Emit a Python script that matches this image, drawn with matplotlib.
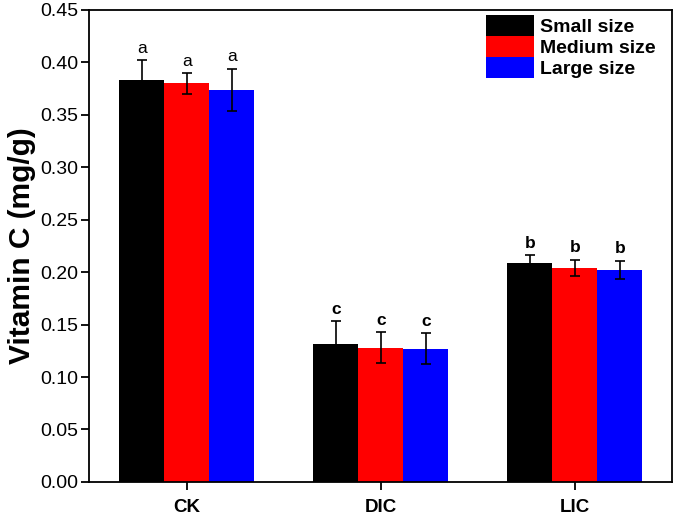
import numpy as np
import matplotlib
matplotlib.use('Agg')
import matplotlib.pyplot as plt

plt.rcParams['font.family'] = ['Liberation Sans', 'DejaVu Sans']

groups = ['CK', 'DIC', 'LIC']
sizes = ['Small size', 'Medium size', 'Large size']
colors = ['black', 'red', 'blue']

small = [0.383, 0.131, 0.209]
medium = [0.380, 0.128, 0.204]
large = [0.374, 0.127, 0.202]
small_err = [0.019, 0.022, 0.007]
medium_err = [0.010, 0.015, 0.008]
large_err = [0.020, 0.015, 0.009]
letters = [['a', 'a', 'a'], ['c', 'c', 'c'], ['b', 'b', 'b']]

fig = plt.figure(figsize=(6.77, 5.16), dpi=100)
ax = fig.add_axes([0.1315, 0.066, 0.861, 0.915])

x = np.arange(len(groups))
width = 0.232
series = [small, medium, large]
errs = [small_err, medium_err, large_err]
for i in range(3):
    pos = x + (i - 1) * width
    ax.bar(pos, series[i], width, color=colors[i], label=sizes[i],
           yerr=errs[i], capsize=3.5,
           error_kw=dict(ecolor='black', elinewidth=1.2, capthick=1.2))
    for j in range(len(groups)):
        top = series[i][j] + errs[i][j]
        ax.text(pos[j], top + 0.004, letters[j][i], ha='center', va='bottom',
                fontsize=12.5, fontweight='normal' if j == 0 else 'bold')

ax.set_xlim(-0.505, 2.5)
ax.set_ylim(0, 0.45)
ax.set_yticks(np.arange(0, 0.451, 0.05))
ax.set_yticklabels(['%.2f' % v for v in np.arange(0, 0.451, 0.05)], fontsize=14)
ax.set_xticks(x)
ax.set_xticklabels(groups, fontsize=13.5, fontweight='bold')
ax.tick_params(direction='out', length=6, width=1.3)
ax.tick_params(axis='y', pad=2)
ax.tick_params(axis='x', pad=6)
for s in ax.spines.values():
    s.set_linewidth(1.3)
ax.set_ylabel('Vitamin C (mg/g)', fontsize=21.5, fontweight='bold', labelpad=3)

ax.legend(loc='upper right', bbox_to_anchor=(0.985, 1.006), borderaxespad=0,
          frameon=False, prop={'size': 14, 'weight': 'bold'},
          handlelength=2.45, handleheight=1.3, labelspacing=0.0,
          handletextpad=0.3)

fig.savefig('out.png', dpi=100)
